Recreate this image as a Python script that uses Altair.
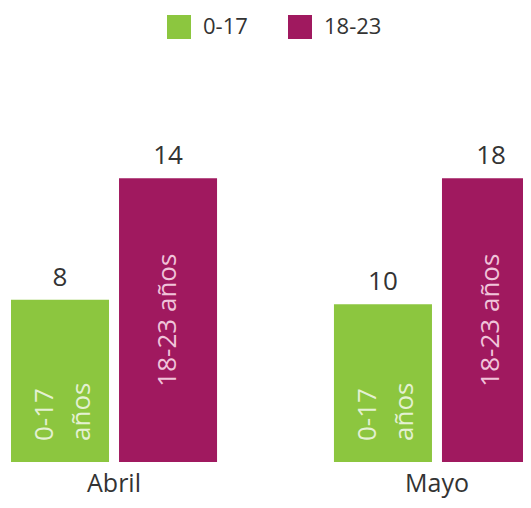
import altair as alt
import pandas as pd

months = ["Abril", "Mayo"]
series = ["0-17", "18-23"]
values_0_17 = [8, 10]
values_18_23 = [14, 18]
inner_labels = ["0-17\naños", "18-23 años"]
colors = ["#8cc63f", "#a0195f"]
inner_text_colors = ["#e4f1d3", "#f0c4da"]

rows = []
for i, m in enumerate(months):
    for s, vals, lab in zip(series, [values_0_17, values_18_23], inner_labels):
        rows.append({"month": m, "series": s, "value": vals[i], "inner": lab})
df = pd.DataFrame(rows)

FONT = "Open Sans"

base = (
    alt.Chart(df)
    .transform_joinaggregate(gmax="max(value)", groupby=["month"])
    .transform_calculate(frac="datum.value / datum.gmax", half="datum.value / datum.gmax / 2")
)

x = alt.X(
    "month:N", sort=months, title=None,
    scale=alt.Scale(paddingInner=0.362, paddingOuter=0, range=[0, 529]),
    axis=alt.Axis(domain=False, ticks=False, labelFontSize=25, labelColor="#333333",
                  labelPadding=9, labelFont=FONT, labelAngle=0),
)
xo = alt.XOffset("series:N", sort=series, scale=alt.Scale(paddingInner=0.0926, paddingOuter=0))
y = alt.Y("frac:Q", scale=alt.Scale(domain=[0, 1.5764]), axis=None)

bars = base.mark_bar().encode(
    x=x, xOffset=xo, y=y,
    color=alt.Color(
        "series:N", sort=series,
        scale=alt.Scale(domain=series, range=colors),
        legend=alt.Legend(
            title=None, orient="none", legendX=156, legendY=7, direction="horizontal",
            symbolType="square", symbolSize=576, symbolStrokeWidth=0, symbolOpacity=1,
            labelFontSize=22, labelFont=FONT, labelColor="#333333", labelOffset=12,
            columnPadding=40, padding=0,
        ),
    ),
)

labels = base.mark_text(
    font=FONT, fontSize=26, color="#333333", baseline="alphabetic", dy=-14
).encode(x=x, xOffset=xo, y=y, text="value:Q")

inner_green = base.transform_filter(alt.datum.series == series[0]).mark_text(
    font=FONT, fontSize=26, color=inner_text_colors[0], angle=270, align="left",
    baseline="alphabetic", dx=21, dy=-7, lineBreak="\n", lineHeight=37,
).encode(x=x, xOffset=xo, y=alt.datum(0), text="inner:N")

inner_mag = base.transform_filter(alt.datum.series == series[1]).mark_text(
    font=FONT, fontSize=26, color=inner_text_colors[1], angle=270, align="center",
    baseline="middle",
).encode(x=x, xOffset=xo, y=alt.Y("half:Q"), text="inner:N")

chart = (
    alt.layer(bars, labels, inner_green, inner_mag)
    .properties(
        width=512, height=454,
        padding={"left": 3, "top": 0, "right": 0, "bottom": 38},
        autosize=alt.AutoSizeParams(type="none"),
    )
    .configure_view(stroke=None)
)

chart.save("out.html", embed_options={"renderer": "svg", "actions": False})
